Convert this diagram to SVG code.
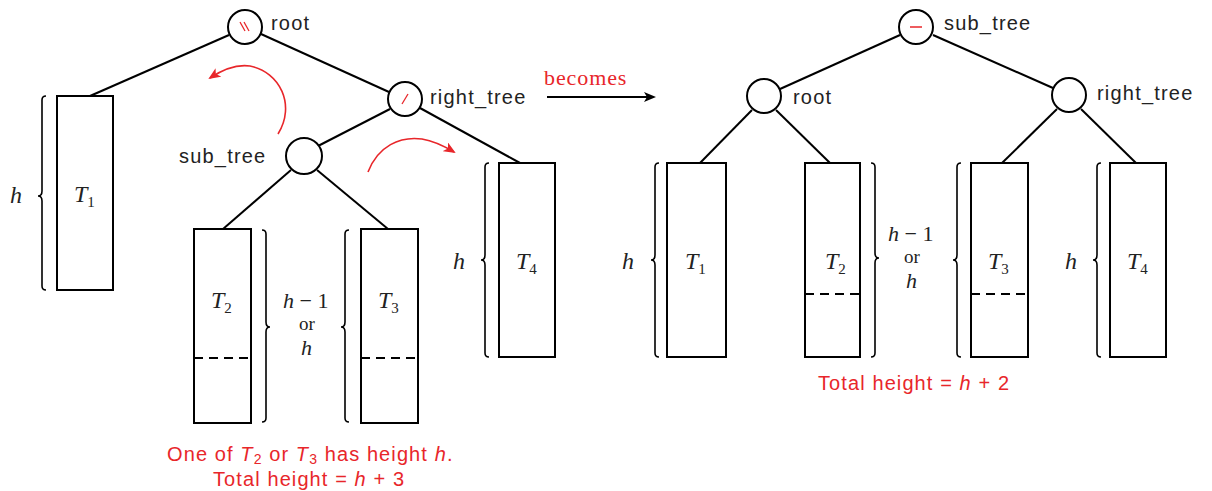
<svg xmlns="http://www.w3.org/2000/svg" width="1212" height="491" viewBox="0 0 1212 491">
<style>
.lbl{font-family:"Liberation Sans",Arial,sans-serif;font-size:20px;letter-spacing:1.2px;fill:#222}
.m{font-family:"Liberation Serif","Times New Roman",serif;font-style:italic;font-size:24px;fill:#222}
.mh{font-family:"Liberation Serif","Times New Roman",serif;font-style:italic;font-size:22px;fill:#222}
.ms{font-family:"Liberation Serif","Times New Roman",serif;font-size:15px;fill:#222}
.mr{font-family:"Liberation Serif","Times New Roman",serif;font-size:19px;fill:#222}
.node{fill:#fff;stroke:#000;stroke-width:2}
.box{fill:#fff;stroke:#000;stroke-width:2}
.dash{stroke:#000;stroke-width:2;stroke-dasharray:9,6}
.edge{stroke:#000;stroke-width:2;fill:none}
.br{stroke:#000;stroke-width:1.6;fill:none}
.rs{stroke:#e8262a;stroke-width:1.6;fill:none}
.rsans{font-family:"Liberation Sans",Arial,sans-serif;font-size:20px;letter-spacing:1.1px;fill:#e8262a}
.rserif{font-family:"Liberation Serif","Times New Roman",serif;font-size:22px;letter-spacing:0.9px;fill:#e8262a}
</style>
<defs>
<marker id="ra" viewBox="0 0 12 10" refX="10" refY="5" markerWidth="13" markerHeight="10" markerUnits="userSpaceOnUse" orient="auto">
<path d="M0,0 L12,5 L0,10 L3,5 Z" fill="#e8262a"/>
</marker>
<marker id="ba" viewBox="0 0 12 10" refX="6" refY="5" markerWidth="12" markerHeight="10" markerUnits="userSpaceOnUse" orient="auto">
<path d="M0,0 L12,5 L0,10 L3,5 Z" fill="#000"/>
</marker>
</defs>

<g id="connectors">
<line class="edge" x1="229" y1="35" x2="90" y2="96"/>
<line class="edge" x1="261" y1="34" x2="389" y2="92"/>
<line class="edge" x1="390" y1="109" x2="318" y2="146"/>
<line class="edge" x1="420" y1="108" x2="520" y2="163"/>
<line class="edge" x1="291" y1="170" x2="223" y2="229"/>
<line class="edge" x1="317" y1="170" x2="388" y2="229"/>
<line class="edge" x1="900" y1="35" x2="780" y2="89"/>
<line class="edge" x1="933" y1="35" x2="1053" y2="88"/>
<line class="edge" x1="752" y1="110" x2="700" y2="163"/>
<line class="edge" x1="776" y1="110" x2="830" y2="163"/>
<line class="edge" x1="1057" y1="109" x2="1002" y2="163"/>
<line class="edge" x1="1081" y1="109" x2="1136" y2="163"/>
<path class="rs" d="M278,134 C296,105 280,72 250,66 C236,64 222,70 210,78" marker-end="url(#ra)"/>
<path class="rs" d="M368,172 C378,146 400,136 422,139 C434,141 444,146 454,152" marker-end="url(#ra)"/>
<line x1="547" y1="97" x2="650" y2="97" stroke="#000" stroke-width="2" marker-end="url(#ba)"/>
</g>

<g id="root-left">
<circle class="node" cx="245" cy="27" r="17"/>
<line x1="240" y1="22" x2="245" y2="31" stroke="#e8262a" stroke-width="1.3"/>
<line x1="244" y1="22" x2="249" y2="31" stroke="#e8262a" stroke-width="1.3"/>
<text class="lbl" x="271" y="30">root</text>
</g>
<g id="right-tree-left">
<circle class="node" cx="405" cy="99" r="17"/>
<line x1="402" y1="104" x2="408" y2="94" stroke="#e8262a" stroke-width="1.3"/>
<text class="lbl" x="430" y="104">right_tree</text>
</g>
<g id="sub-tree-left">
<circle class="node" cx="304" cy="156" r="18"/>
<text class="lbl" x="179" y="163">sub_tree</text>
</g>

<g id="T1-left">
<rect class="box" x="57" y="96" width="56" height="194"/>
<text class="m" x="74" y="202">T<tspan class="ms" font-style="normal" dy="5">1</tspan></text>
<path class="br" d="M46,96 Q42,96 42,100 L42,191 Q42,196 38,196 Q42,196 42,201 L42,286 Q42,290 46,290"/>
<text class="m" x="10" y="203">h</text>
</g>

<g id="T2-left">
<rect class="box" x="194" y="229" width="57" height="194"/>
<line class="dash" x1="194" y1="358" x2="251" y2="358"/>
<text class="m" x="211" y="308">T<tspan class="ms" font-style="normal" dy="5">2</tspan></text>
<path class="br" d="M262,230 Q266,230 266,234 L266,322 Q266,327 270,327 Q266,327 266,332 L266,418 Q266,422 262,422"/>
</g>
<g id="T3-left">
<rect class="box" x="361" y="229" width="57" height="194"/>
<line class="dash" x1="361" y1="358" x2="418" y2="358"/>
<text class="m" x="378" y="308">T<tspan class="ms" font-style="normal" dy="5">3</tspan></text>
<path class="br" d="M349,230 Q345,230 345,234 L345,322 Q345,327 341,327 Q345,327 345,332 L345,418 Q345,422 349,422"/>
</g>
<g id="hlabel-left">
<text class="mh" x="283" y="308">h<tspan font-style="normal"> − 1</tspan></text>
<text class="mr" x="299" y="330">or</text>
<text class="mh" x="301" y="355">h</text>
</g>

<g id="T4-left">
<rect class="box" x="499" y="163" width="56" height="194"/>
<text class="m" x="516" y="269">T<tspan class="ms" font-style="normal" dy="5">4</tspan></text>
<path class="br" d="M489,163 Q485,163 485,167 L485,255 Q485,260 481,260 Q485,260 485,265 L485,353 Q485,357 489,357"/>
<text class="m" x="453" y="269">h</text>
</g>

<g id="becomes">
<text class="rserif" x="544" y="85">becomes</text>
</g>

<g id="caption-left">
<text class="rsans" x="167" y="461">One of <tspan font-style="italic">T</tspan><tspan font-size="14" dy="3">2</tspan><tspan dy="-3"> or </tspan><tspan font-style="italic">T</tspan><tspan font-size="14" dy="3">3</tspan><tspan dy="-3"> has height </tspan><tspan font-style="italic">h</tspan>.</text>
<text class="rsans" x="213" y="486">Total height = <tspan font-style="italic">h</tspan> + 3</text>
</g>

<g id="sub-tree-right">
<circle class="node" cx="916" cy="27" r="17"/>
<line x1="910" y1="27" x2="922" y2="27" stroke="#e8262a" stroke-width="1.5"/>
<text class="lbl" x="944" y="30">sub_tree</text>
</g>
<g id="root-right">
<circle class="node" cx="764" cy="96" r="17"/>
<text class="lbl" x="793" y="104">root</text>
</g>
<g id="right-tree-right">
<circle class="node" cx="1069" cy="95" r="17"/>
<text class="lbl" x="1097" y="100">right_tree</text>
</g>

<g id="T1-right">
<rect class="box" x="667" y="163" width="59" height="194"/>
<text class="m" x="685" y="269">T<tspan class="ms" font-style="normal" dy="5">1</tspan></text>
<path class="br" d="M659,163 Q655,163 655,167 L655,255 Q655,260 651,260 Q655,260 655,265 L655,353 Q655,357 659,357"/>
<text class="m" x="622" y="269">h</text>
</g>
<g id="T2-right">
<rect class="box" x="805" y="163" width="55" height="194"/>
<line class="dash" x1="805" y1="294" x2="860" y2="294"/>
<text class="m" x="825" y="269">T<tspan class="ms" font-style="normal" dy="5">2</tspan></text>
<path class="br" d="M871,163 Q875,163 875,167 L875,253 Q875,258 879,258 Q875,258 875,263 L875,353 Q875,357 871,357"/>
</g>
<g id="hlabel-right">
<text class="mh" x="888" y="241">h<tspan font-style="normal"> − 1</tspan></text>
<text class="mr" x="904" y="263">or</text>
<text class="mh" x="906" y="288">h</text>
</g>
<g id="T3-right">
<rect class="box" x="971" y="163" width="57" height="194"/>
<line class="dash" x1="971" y1="294" x2="1028" y2="294"/>
<text class="m" x="988" y="269">T<tspan class="ms" font-style="normal" dy="5">3</tspan></text>
<path class="br" d="M961,163 Q957,163 957,167 L957,255 Q957,260 953,260 Q957,260 957,265 L957,353 Q957,357 961,357"/>
</g>
<g id="T4-right">
<rect class="box" x="1110" y="163" width="56" height="194"/>
<text class="m" x="1127" y="269">T<tspan class="ms" font-style="normal" dy="5">4</tspan></text>
<path class="br" d="M1101,163 Q1097,163 1097,167 L1097,255 Q1097,260 1093,260 Q1097,260 1097,265 L1097,353 Q1097,357 1101,357"/>
<text class="m" x="1065" y="269">h</text>
</g>

<g id="caption-right">
<text class="rsans" x="818" y="390">Total height = <tspan font-style="italic">h</tspan> + 2</text>
</g>
</svg>
